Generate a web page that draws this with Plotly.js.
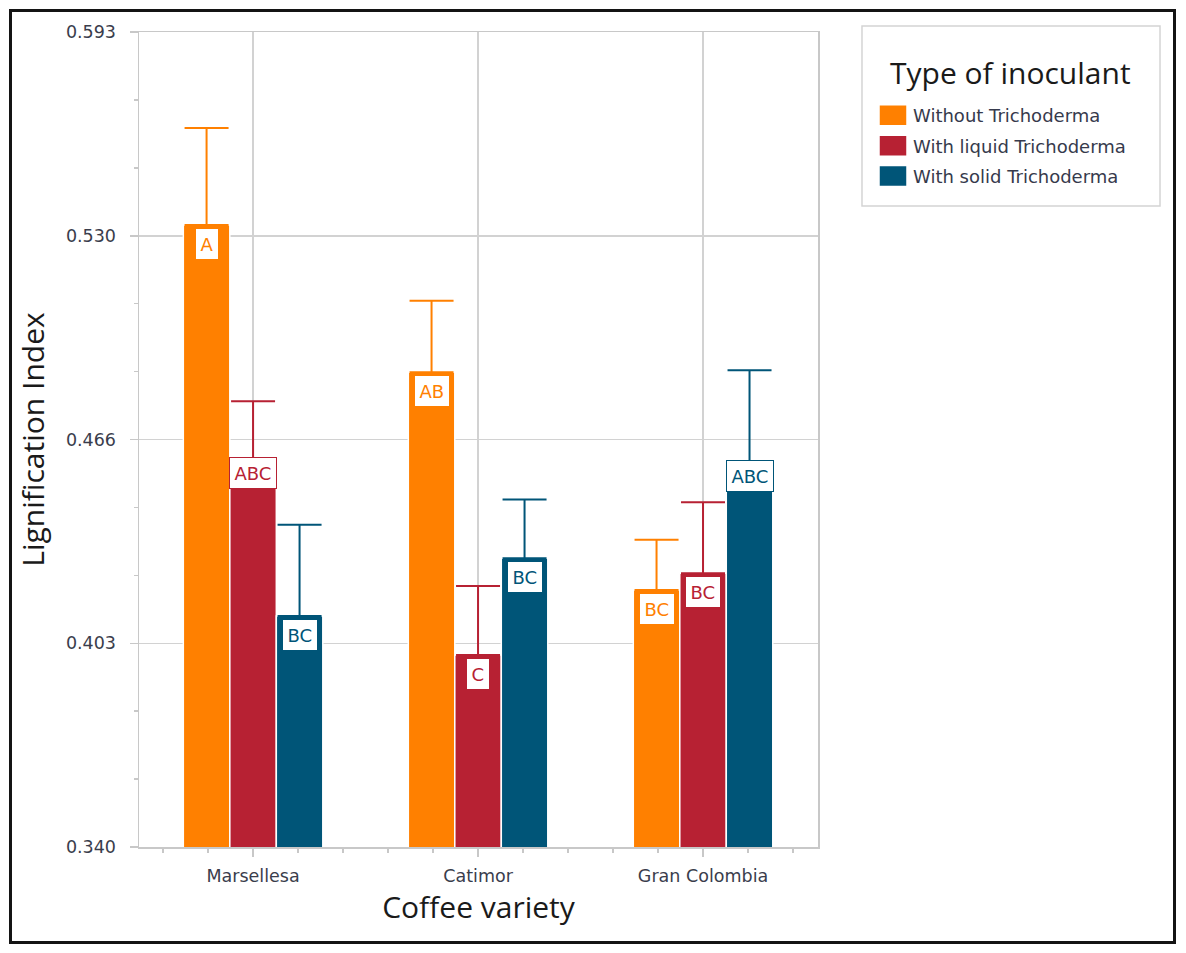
<!DOCTYPE html>
<html>
<head>
<meta charset="utf-8">
<script src="https://cdn.plot.ly/plotly-3.0.1.min.js"></script>
<style>
body { margin: 0; background: #fff; }
#frame { position: absolute; left: 9px; top: 9px; width: 1161px; height: 929px; border: 3px solid #141414; }
#chart { width: 1161px; height: 929px; }
</style>
</head>
<body>
<div id="frame"><div id="chart"></div></div>
<script>
var varieties = ['Marsellesa', 'Catimor', 'Gran Colombia'];
var inoculants = ['Without Trichoderma', 'With liquid Trichoderma', 'With solid Trichoderma'];
var legendTitle = 'Type of inoculant';
var colors = ['#FF8000', '#B72133', '#005578'];

var withoutMean = [0.5331, 0.4874, 0.4198];
var withoutErr = [0.0301, 0.0222, 0.0156];
var liquidMean = [0.4601, 0.3996, 0.4250];
var liquidErr = [0.0183, 0.0214, 0.0220];
var solidMean = [0.4117, 0.4296, 0.4592];
var solidErr = [0.0283, 0.0183, 0.0288];
var noErr = [0, 0, 0];

var withoutLetters = ['A', 'AB', 'BC'];
var liquidLetters = ['ABC', 'C', 'BC'];
var solidLetters = ['BC', 'BC', 'ABC'];

var yTickVals = [0.340, 0.40325, 0.4665, 0.52975, 0.593];
var yTickText = ['0.340', '0.403', '0.466', '0.530', '0.593'];

var means = [withoutMean, liquidMean, solidMean];
var errs = [withoutErr, liquidErr, solidErr];
var letters = [withoutLetters, liquidLetters, solidLetters];

var xIdx = varieties.map(function(v, i) { return i; });
var bargap = 0.38;
var barW = (1 - bargap) / 3;

var traces = [];
var annotations = [];
for (var k = 0; k < 3; k++) {
    traces.push({
        type: 'bar',
        name: inoculants[k],
        legendgroup: 'g' + k,
        x: xIdx,
        y: means[k],
        marker: { color: colors[k], line: { color: '#ffffff', width: 1.5 } },
        error_y: {
            type: 'data', symmetric: false,
            array: errs[k], arrayminus: noErr,
            color: colors[k], thickness: 2, width: 22
        },
        hoverinfo: 'skip'
    });
    for (var i = 0; i < xIdx.length; i++) {
        var txt = letters[k][i];
        annotations.push({
            x: xIdx[i] + (k - 1) * barW,
            y: means[k][i],
            xref: 'x', yref: 'y',
            text: txt,
            showarrow: false,
            yanchor: 'top',
            yshift: txt.length > 2 ? 3 : -3,
            bgcolor: '#ffffff',
            bordercolor: colors[k],
            borderwidth: 1,
            borderpad: 4.5,
            font: { family: 'DejaVu Sans', size: 18, color: colors[k] }
        });
    }
}

// legend title drawn as a centred annotation inside the legend box
annotations.push({
    xref: 'paper', yref: 'paper', x: 1.2842, y: 0.9509,
    xanchor: 'center', yanchor: 'middle',
    text: legendTitle, showarrow: false,
    font: { family: 'Open Sans', size: 30, color: '#1a1a1a' }
});

var axisGray = '#c8c8c8';
var gridGray = '#d2d2d2';
var tickFont = { family: 'DejaVu Sans', size: 17.5, color: '#3a3d4c' };

var layout = {
    width: 1161,
    height: 929,
    margin: { l: 127, r: 355, t: 20, b: 94 },
    paper_bgcolor: '#ffffff',
    plot_bgcolor: '#ffffff',
    barmode: 'group',
    bargap: bargap,
    bargroupgap: 0,
    xaxis: {
        type: 'linear',
        range: [-0.507, 2.511],
        tickmode: 'array',
        tickvals: xIdx,
        ticktext: varieties,
        ticks: 'outside', ticklen: 8, tickwidth: 1.5, tickcolor: axisGray,
        minor: { tickmode: 'linear', tick0: 0, dtick: 0.2, ticks: 'outside', ticklen: 4, tickwidth: 1.5, tickcolor: axisGray, showgrid: false },
        showline: true, linecolor: axisGray, linewidth: 1.5, mirror: true,
        showgrid: true, gridcolor: gridGray, gridwidth: 1.5,
        zeroline: false,
        tickfont: tickFont,
        ticklabelstandoff: 4,
        title: { text: 'Coffee variety', font: { family: 'Open Sans', size: 30, color: '#1a1a1a' }, standoff: 11 }
    },
    yaxis: {
        range: [0.340, 0.593],
        tickmode: 'array',
        tickvals: yTickVals,
        ticktext: yTickText,
        ticks: 'outside', ticklen: 8, tickwidth: 1.5, tickcolor: axisGray,
        minor: { tickmode: 'linear', tick0: 0.340, dtick: 0.0210833333, ticks: 'outside', ticklen: 4, tickwidth: 1.5, tickcolor: axisGray, showgrid: false },
        showline: true, linecolor: axisGray, linewidth: 1.5, mirror: true,
        showgrid: true, gridcolor: gridGray, gridwidth: 1.5,
        zeroline: false,
        tickfont: tickFont,
        ticklabelstandoff: 10,
        title: { text: 'Lignification Index', font: { family: 'Open Sans', size: 30, color: '#1a1a1a' }, standoff: 42 }
    },
    showlegend: true,
    legend: {
        x: 1.081, y: 0.9202, xanchor: 'left', yanchor: 'top',
        traceorder: 'grouped',
        tracegroupgap: 4,
        bgcolor: 'rgba(0,0,0,0)',
        borderwidth: 0,
        font: { family: 'DejaVu Sans', size: 18, color: '#363a4c' }
    },
    shapes: [{
        type: 'rect', xref: 'paper', yref: 'paper',
        x0: 1.0648, x1: 1.5037, y0: 0.7865, y1: 1.0074,
        line: { color: '#d4d4d4', width: 1.5 },
        fillcolor: 'rgba(0,0,0,0)'
    }],
    annotations: annotations
};

Plotly.newPlot('chart', traces, layout, { displayModeBar: false, staticPlot: true }).then(function(gd) {
    // bigger legend swatches, like the original
    gd.querySelectorAll('.legend .legendpoints path').forEach(function(p) {
        p.setAttribute('d', 'M14,10.5H-14V-10.5H14Z');
    });
});
</script>
</body>
</html>
